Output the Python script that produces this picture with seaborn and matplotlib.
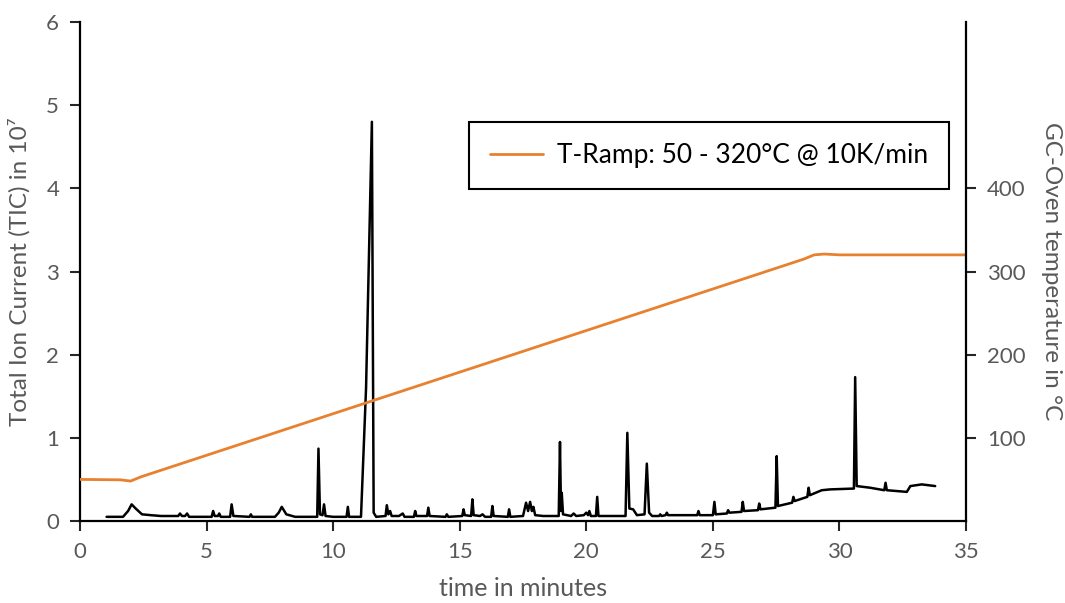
import numpy as np
import pandas as pd
import seaborn as sns
import matplotlib.pyplot as plt

# chromatogram (TIC in 10^7)
tic_time = [1.05, 1.7, 1.9, 2.04, 2.2, 2.45, 2.8, 3.2, 3.6, 3.88, 3.95, 4.03, 4.15, 4.23, 4.31,
            4.8, 5.2, 5.26, 5.32, 5.45, 5.5, 5.56, 5.93, 5.99, 6.06, 6.7, 6.75, 6.8, 7.7, 7.85,
            7.97, 8.15, 8.5, 9.37, 9.42, 9.48, 9.58, 9.64, 9.7, 10.0, 10.53, 10.58, 10.63, 11.1,
            11.3, 11.53, 11.6, 11.7, 12.07, 12.12, 12.18, 12.25, 12.31, 12.6, 12.75, 12.82, 13.19,
            13.24, 13.29, 13.71, 13.76, 13.81, 14.44, 14.49, 14.55, 15.1, 15.15, 15.2, 15.45, 15.5,
            15.55, 15.8, 15.9, 16.0, 16.24, 16.29, 16.34, 16.9, 16.95, 17.0, 17.5, 17.62, 17.7,
            17.78, 17.85, 17.91, 17.98, 18.3, 18.91, 18.96, 19.0, 19.03, 19.08, 19.4, 19.5, 19.6,
            19.9, 20.0, 20.07, 20.12, 20.18, 20.38, 20.43, 20.48, 21.55, 21.62, 21.7, 21.85, 22.0,
            22.3, 22.39, 22.48, 22.6, 22.87, 22.92, 22.97, 23.13, 23.18, 23.23, 24.38, 24.43, 24.48,
            25.0, 25.06, 25.11, 25.55, 25.6, 25.65, 26.13, 26.18, 26.23, 26.78, 26.83, 26.88, 27.47,
            27.52, 27.57, 28.13, 28.18, 28.23, 28.73, 28.78, 28.83, 29.3, 29.63, 30.57, 30.62, 30.68,
            31.21, 31.77, 31.82, 31.87, 32.66, 32.8, 33.25, 33.78]
tic_value = [0.05, 0.05, 0.12, 0.20, 0.15, 0.08, 0.07, 0.06, 0.06, 0.06, 0.09, 0.06, 0.06, 0.09, 0.05,
             0.05, 0.05, 0.12, 0.06, 0.06, 0.09, 0.05, 0.05, 0.20, 0.06, 0.05, 0.08, 0.05, 0.05, 0.10,
             0.17, 0.08, 0.05, 0.05, 0.87, 0.08, 0.07, 0.20, 0.06, 0.05, 0.05, 0.17, 0.05, 0.05,
             1.60, 4.80, 0.10, 0.05, 0.06, 0.19, 0.08, 0.12, 0.06, 0.06, 0.09, 0.05, 0.05,
             0.12, 0.06, 0.06, 0.16, 0.06, 0.05, 0.08, 0.05, 0.06, 0.14, 0.07, 0.06, 0.26,
             0.07, 0.06, 0.08, 0.05, 0.05, 0.18, 0.06, 0.05, 0.14, 0.05, 0.06, 0.22, 0.12,
             0.23, 0.12, 0.17, 0.07, 0.06, 0.06, 0.95, 0.12, 0.34, 0.08, 0.06, 0.09, 0.06,
             0.07, 0.10, 0.07, 0.12, 0.06, 0.06, 0.29, 0.06, 0.06, 1.06, 0.15, 0.14, 0.07,
             0.08, 0.69, 0.10, 0.06, 0.06, 0.08, 0.06, 0.07, 0.10, 0.07, 0.07, 0.12, 0.07,
             0.07, 0.23, 0.08, 0.09, 0.13, 0.10, 0.11, 0.23, 0.12, 0.13, 0.21, 0.14, 0.16,
             0.78, 0.18, 0.22, 0.29, 0.24, 0.29, 0.40, 0.31, 0.37, 0.38, 0.39, 1.73, 0.42,
             0.40, 0.37, 0.46, 0.37, 0.35, 0.42, 0.44, 0.42]

# oven temperature programme
oven_time = [0, 1.6, 2.0, 2.4, 28.6, 29.0, 29.4, 30.0, 35]
oven_temp = [50, 49.5, 48, 53, 315, 320, 321, 320, 320]

x_ticks = [0, 5, 10, 15, 20, 25, 30, 35]
tic_ticks = [0, 1, 2, 3, 4, 5, 6]
temp_ticks = [100, 200, 300, 400]

tic_df = pd.DataFrame({"time": tic_time, "tic": tic_value})
oven_df = pd.DataFrame({"time": oven_time, "temp": oven_temp})

sns.set_style("ticks")
plt.rcParams['font.family'] = ['Lato', 'DejaVu Sans']
grey = "#595959"
orange = "#E8812F"

fig = plt.figure(figsize=(10.65, 6.03), dpi=100)
ax = fig.add_axes([0.0751, 0.136, 0.832, 0.8275])
ax2 = ax.twinx()

sns.lineplot(data=tic_df, x="time", y="tic", ax=ax, color="black", linewidth=1.8,
             estimator=None, sort=False)
sns.lineplot(data=oven_df, x="time", y="temp", ax=ax2, color=orange, linewidth=2.0,
             estimator=None, sort=False, label="T-Ramp: 50 - 320°C @ 10K/min")

ax.set_xlim(0, 35)
ax.set_ylim(0, 6)
ax2.set_ylim(0, 600)
ax.set_xticks(x_ticks)
ax.set_yticks(tic_ticks)
ax2.set_yticks(temp_ticks)

ax.set_xlabel("time in minutes", fontsize=18, color=grey, labelpad=11)
ax.set_ylabel("Total Ion Current (TIC) in 10⁷", fontsize=17.5, color=grey, labelpad=11)
ax2.set_ylabel("GC-Oven temperature in °C", fontsize=17.5, color=grey, rotation=270, labelpad=26)

for a in (ax, ax2):
    a.tick_params(axis="both", labelsize=16, labelcolor=grey, length=7, width=1.5,
                  direction="out", pad=8)
    for s in a.spines.values():
        s.set_linewidth(1.6)
        s.set_color("black")
    a.spines["top"].set_visible(False)
ax.spines["right"].set_visible(False)
ax2.spines["left"].set_visible(False)
ax2.spines["bottom"].set_visible(False)
ax2.spines["right"].set_visible(True)

leg = ax2.legend(loc="upper right", bbox_to_anchor=(0.981, 0.80), fontsize=19,
                 frameon=True, fancybox=False, edgecolor="black", framealpha=1,
                 handlelength=2.0, handletextpad=0.53, borderpad=0.8, borderaxespad=0)
leg.get_frame().set_linewidth(1.5)
for t in leg.get_texts():
    t.set_color("black")

fig.savefig("out.png", dpi=100)
